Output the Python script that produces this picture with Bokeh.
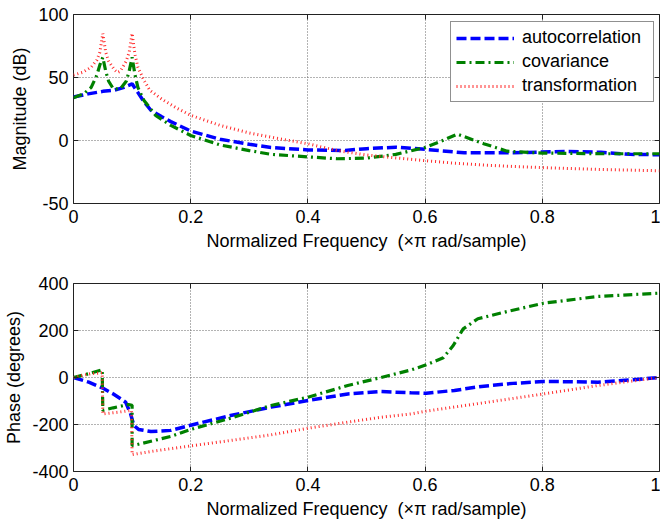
from bokeh.plotting import figure
from bokeh.models import (Range1d, FixedTicker, LinearAxis, Legend, LegendItem,
                          CustomLabelingPolicy)
from bokeh.layouts import column
from bokeh.embed import file_html
from bokeh.resources import INLINE

FONT = "Liberation Sans"
FS = "18px"

# ---------------- data ----------------
x_ticks = [0, 0.2, 0.4, 0.6, 0.8, 1.0]
x_tick_labels = ["0", "0.2", "0.4", "0.6", "0.8", "1"]
mag_ticks = [-50, 0, 50, 100]
mag_tick_labels = ["-50", "0", "50", "100"]
phase_ticks = [-400, -200, 0, 200, 400]
phase_tick_labels = ["-400", "-200", "0", "200", "400"]

series_names = ["autocorrelation", "covariance", "transformation"]

# Magnitude (dB)
f_mag_auto = [0, 0.025, 0.05, 0.07, 0.085, 0.1, 0.11, 0.12, 0.132, 0.15, 0.166, 0.2, 0.25,
              0.3, 0.337, 0.4, 0.46, 0.5, 0.55, 0.6, 0.667, 0.75, 0.84, 0.9, 0.95, 1.0]
mag_auto = [34.5, 37, 39, 40, 42, 45, 38, 31, 24, 19, 15, 7.5, 1,
            -3, -5.5, -7.5, -8, -6.5, -5.3, -7, -9.8, -9.8, -8.7, -9.3, -11, -11.3]

f_mag_cov = [0, 0.017, 0.03, 0.04, 0.045, 0.05, 0.055, 0.06, 0.068, 0.08, 0.09, 0.095, 0.1,
             0.105, 0.11, 0.12, 0.14, 0.166, 0.2, 0.25, 0.3, 0.337, 0.4, 0.45, 0.5, 0.55,
             0.6, 0.63, 0.655, 0.7, 0.74, 0.8, 0.9, 1.0]
mag_cov = [34, 37, 42, 52, 60, 66, 55, 47, 41, 41, 47, 55, 66,
           52, 42, 32, 20, 12, 4, -3.5, -8, -11, -13, -14.5, -14, -11,
           -5.5, 0, 5, -2.5, -8.5, -10, -10.5, -10.5]

f_mag_tr = [0, 0.015, 0.03, 0.04, 0.045, 0.05, 0.055, 0.06, 0.07, 0.075, 0.08, 0.09, 0.095,
            0.1, 0.105, 0.11, 0.12, 0.13, 0.15, 0.175, 0.2, 0.25, 0.3, 0.35, 0.4, 0.45,
            0.5, 0.55, 0.6, 0.65, 0.7, 0.75, 0.8, 0.85, 0.9, 0.95, 1.0]
mag_tr = [52, 54, 58, 64, 70, 85, 70, 63, 56, 54, 55, 63, 70,
          85, 68, 58, 48, 40, 33, 26, 20, 12, 6, 1.5, -2.6, -8,
          -11.5, -13.8, -16, -18, -19.5, -20.6, -21.5, -22.3, -23, -23.5, -24]

# Phase (degrees)
f_ph_auto = [0, 0.026, 0.049, 0.068, 0.089, 0.0975, 0.103, 0.111, 0.132, 0.166, 0.2, 0.268,
             0.337, 0.4, 0.468, 0.525, 0.576, 0.602, 0.65, 0.696, 0.75, 0.802, 0.85, 0.895,
             0.952, 1.0]
ph_auto = [0, -20, -44, -70, -105, -155, -204, -221, -230, -225, -203, -162,
           -126, -98, -70, -60, -65, -67, -55, -38, -25, -17, -18, -20,
           -10, 0]

f_ph_cov = [0, 0.029, 0.049, 0.05, 0.068, 0.094, 0.1, 0.1, 0.109, 0.166, 0.2, 0.268, 0.337,
            0.4, 0.468, 0.525, 0.576, 0.602, 0.631, 0.648, 0.665, 0.69, 0.742, 0.802,
            0.895, 1.0]
ph_cov = [0, 18, 33, -140, -129, -115, -118, -289, -285, -251, -221, -173, -119,
          -84, -34, 0, 32, 54, 84, 136, 207, 250, 282, 316,
          345, 359]

f_ph_tr = [0, 0.029, 0.049, 0.05, 0.075, 0.099, 0.1, 0.137, 0.2, 0.268, 0.337, 0.4, 0.468,
           0.525, 0.576, 0.602, 0.696, 0.802, 0.895, 1.0]
ph_tr = [0, 16, 20, -155, -148, -140, -328, -313, -291, -268, -244, -216, -190,
         -169, -155, -143, -109, -70, -34, 0]

# ---------------- styles ----------------
STYLES = [
    dict(line_color="#0000ff", line_width=3.5, line_dash="10 4"),
    dict(line_color="#008000", line_width=3.2, line_dash="9 4 2 4"),
    dict(line_color="#ff2a2a", line_width=3.0, line_dash="1 3"),
]

HIDE_LABELS = "for (let i = 0; i < indices.size; i++) { indices.unset(i) } return indices"
XLABEL = "Normalized Frequency\u00a0 (\u00d7\u03c0 rad/sample)"


def make_fig(yr, yticks, ylabels, ylabel, height, top, bottom):
    p = figure(width=660, height=height, output_backend="svg", toolbar_location=None,
               x_range=Range1d(0, 1), y_range=Range1d(*yr))
    p.min_border_left = 73
    p.min_border_right = 1
    p.min_border_top = top
    p.min_border_bottom = bottom
    p.outline_line_color = "#222222"
    p.outline_line_width = 1
    p.background_fill_color = "white"
    p.border_fill_color = "white"

    p.xaxis.ticker = FixedTicker(ticks=x_ticks)
    p.xaxis.major_label_overrides = {t: l for t, l in zip(x_ticks, x_tick_labels)}
    p.yaxis.ticker = FixedTicker(ticks=yticks)
    p.yaxis.major_label_overrides = {t: l for t, l in zip(yticks, ylabels)}
    p.xaxis.axis_label = XLABEL
    p.yaxis.axis_label = ylabel
    for ax in (p.xaxis, p.yaxis):
        ax.axis_line_color = None
        ax.major_tick_in = 5
        ax.major_tick_out = 0
        ax.major_tick_line_color = "#222222"
        ax.minor_tick_line_color = None
        ax.major_label_text_font = FONT
        ax.major_label_text_font_size = FS
        ax.major_label_text_color = "black"
        ax.axis_label_text_font = FONT
        ax.axis_label_text_font_size = FS
        ax.axis_label_text_font_style = "normal"
        ax.axis_label_text_color = "black"
    p.xaxis.major_label_standoff = 6
    p.yaxis.major_label_standoff = 5
    p.xaxis.axis_label_standoff = 5
    p.yaxis.axis_label_standoff = 5

    for loc, tk in (("right", yticks), ("above", x_ticks)):
        ax = LinearAxis(ticker=FixedTicker(ticks=tk), major_label_text_font_size="0px",
                        major_label_policy=CustomLabelingPolicy(code=HIDE_LABELS),
                        major_label_standoff=0, major_tick_in=5, major_tick_out=0,
                        axis_line_color=None, minor_tick_line_color=None,
                        major_tick_line_color="#222222")
        p.add_layout(ax, loc)

    p.xgrid.ticker = FixedTicker(ticks=x_ticks)
    p.ygrid.ticker = FixedTicker(ticks=yticks)
    p.grid.grid_line_color = "#666666"
    p.grid.grid_line_dash = "1 2"
    p.grid.grid_line_width = 1
    return p


p1 = make_fig((-50, 100), mag_ticks, mag_tick_labels, "Magnitude (dB)", 260, 14, 57)
r1 = p1.line(f_mag_auto, mag_auto, **STYLES[0])
r2 = p1.line(f_mag_cov, mag_cov, **STYLES[1])
r3 = p1.line(f_mag_tr, mag_tr, **STYLES[2])

legend = Legend(items=[LegendItem(label=n, renderers=[r]) for n, r in zip(series_names, [r1, r2, r3])],
                location=(377, 101))
legend.label_text_font = FONT
legend.label_text_font_size = FS
legend.label_text_color = "black"
legend.border_line_color = "#222222"
legend.border_line_width = 1
legend.background_fill_color = "white"
legend.background_fill_alpha = 1
legend.padding = 5
legend.spacing = 3
legend.margin = 0
legend.glyph_width = 58
legend.glyph_height = 20
legend.label_height = 20
legend.label_width = 126
legend.label_standoff = 8
p1.add_layout(legend, "center")

p2 = make_fig((-400, 400), phase_ticks, phase_tick_labels, "Phase (degrees)", 265, 23, 54)
p2.line(f_ph_auto, ph_auto, **STYLES[0])
p2.line(f_ph_cov, ph_cov, **STYLES[1])
p2.line(f_ph_tr, ph_tr, **STYLES[2])

layout = column(p1, p2, spacing=0)

open("out.html", "w").write(file_html(layout, INLINE))
